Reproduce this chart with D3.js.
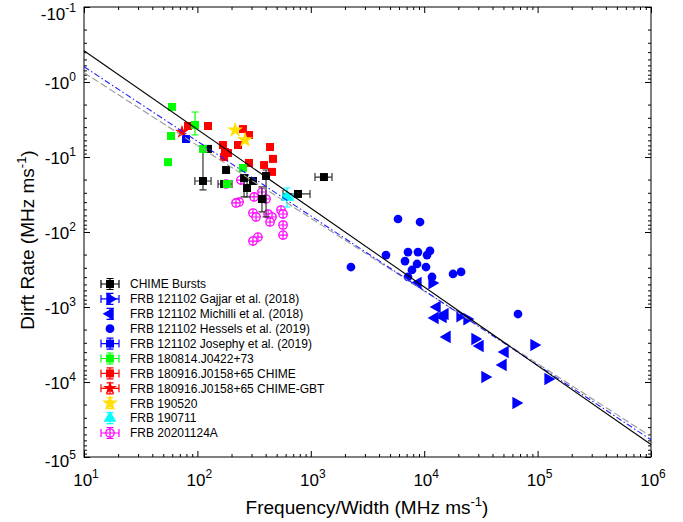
<!DOCTYPE html>
<html>
<head>
<meta charset="utf-8">
<title>Drift rate vs frequency/width</title>
<script src="https://d3js.org/d3.v7.min.js"></script>
<style>
  body { margin: 0; background: #fff; }
  svg text { font-family: "Liberation Sans", Arial, Helvetica, sans-serif; fill: #000; }
</style>
</head>
<body>
<svg id="chart" width="683" height="522"></svg>
<script>
// points: [frequency/width, |drift rate|, xlo, xhi, ylo, yhi]  (drift rates are negative)
var chime = [[112,20.9,95,132,8.1,27.5],[124,7.8],[179,14.9],[172,22.9,152,202],[258,19.1,null,null,18.5,34],
             [274,25.9,null,null,20.3,34],[309,20.9],[403,17.9,null,null,14.9,63],[371,36.3,null,null,25,54],
             [771,31.1,569,984],[1306,18.5,1089,1538]];
var gajjar = [[11720,479],[20700,1320],[23840,1450],[28050,2670],[92900,3210],[34360,8580],[123600,9120],[64570,19050]];
var michilli = [[8810,479],[12970,1000],[15250,1240],[14650,1360],[12450,1400],[15890,2510],[31050,3310],[51600,3980],[49550,5930]];
var hessels = [[5875,67.1],[9190,73.6],[4603,203],[2259,293],[7195,185],[8810,185],[11240,179],[10590,203],[6770,244],
               [8650,267],[10370,293],[7800,321],[7195,398],[11720,398],[17960,363],[21130,341],[67150,1240]];
var josephy = [[79.3,5.75]];
var frb180814 = [[59.7,2.15],[58.5,5.25],[55.1,11.7],[95.3,3.74,null,null,2.51,5.09],[112,7.8],[252,14.0],[182,22.9]];
var frb180916 = [[82.6,3.86],[124,3.86],[252,4.24],[285,5.09],[228,6.92],[168,6.92],[175,8.58],[186,8.85],[172,10],
                 [437,7.36],[464,10.6],[285,12.0],[387,12.8],[455,15.8]];
var frb180916gbt = [[73.1,4.64]];
var frb190520 = [[215,4.37],[263,5.93]];
var frb190711 = [[617,34.1,569,697,25.9,46.4]];
var frb20201124 = [[242,20.3],[179,22.9],[371,29.3],[316,34.1],[403,36.3],[233,39.8],[219,41.0],[309,55.8],[329,63.1],
                   [420,57.5],[455,63.1],[546,50.9],[569,57.5],[437,73.6],[569,80.7],[569,110],[342,117],[309,132]];

// power-law fits |rate| = a * x^b
var fitSolid = [0.0341, 1.05];
var fitDashDot = [0.0632, 0.995];
var fitDashed = [0.0805, 0.97];

var xTicks = [1e1, 1e2, 1e3, 1e4, 1e5, 1e6];
var yTicks = [1e-1, 1e0, 1e1, 1e2, 1e3, 1e4, 1e5];

var svg = d3.select("#chart");
var L = 84, R = 651, T = 7, B = 457;
var x = d3.scaleLog().domain([10, 1e6]).range([L, R]);
var y = d3.scaleLog().domain([0.1, 1e5]).range([T, B]);

function minors(dom) {
  var out = [];
  for (var k = Math.round(Math.log10(dom[0])); k < Math.round(Math.log10(dom[1])); k++)
    for (var m = 2; m <= 9; m++) out.push(m * Math.pow(10, k));
  return out;
}

// ticks on all four sides, pointing inward
function tickAxis(axis, vals, size, tr) {
  var g = svg.append("g").attr("transform", tr)
    .call(axis.tickValues(vals).tickSize(-size).tickSizeOuter(0).tickFormat(""));
  g.select(".domain").remove();
  g.selectAll(".tick line").attr("stroke", "#000").attr("stroke-width", 1);
}
tickAxis(d3.axisBottom(x), xTicks, 6, "translate(0," + B + ")");
tickAxis(d3.axisBottom(x), minors(x.domain()), 3, "translate(0," + B + ")");
tickAxis(d3.axisTop(x), xTicks, 6, "translate(0," + T + ")");
tickAxis(d3.axisTop(x), minors(x.domain()), 3, "translate(0," + T + ")");
tickAxis(d3.axisLeft(y), yTicks, 6, "translate(" + L + ",0)");
tickAxis(d3.axisLeft(y), minors(y.domain()), 3, "translate(" + L + ",0)");
tickAxis(d3.axisRight(y), yTicks, 6, "translate(" + R + ",0)");
tickAxis(d3.axisRight(y), minors(y.domain()), 3, "translate(" + R + ",0)");

svg.append("rect").attr("x", L).attr("y", T).attr("width", R - L).attr("height", B - T)
  .attr("fill", "none").attr("stroke", "#000").attr("stroke-width", 1);

// tick labels
xTicks.forEach(function (v) {
  var t = svg.append("text").attr("x", x(v) + 2).attr("y", 486)
    .attr("text-anchor", "middle").style("font-size", "17px");
  t.append("tspan").text("10");
  t.append("tspan").attr("dy", -8).style("font-size", "12px").text(Math.round(Math.log10(v)));
});
yTicks.forEach(function (v, i) {
  // end labels are nudged inside the figure
  var off = i === 0 ? 13 : (i === yTicks.length - 1 ? 10 : 7);
  var t = svg.append("text").attr("x", 76).attr("y", y(v) + off)
    .attr("text-anchor", "end").style("font-size", "17px");
  t.append("tspan").text("-10");
  t.append("tspan").attr("dy", -8).style("font-size", "12px").text(Math.round(Math.log10(v)));
});

// axis titles
var xt = svg.append("text").attr("x", 367).attr("y", 514).attr("text-anchor", "middle").style("font-size", "19px");
xt.append("tspan").text("Frequency/Width (MHz ms");
xt.append("tspan").attr("dy", -8).style("font-size", "13px").text("-1");
xt.append("tspan").attr("dy", 8).text(")");
var yt = svg.append("text").attr("transform", "translate(34,240) rotate(-90)").attr("text-anchor", "middle").style("font-size", "19px");
yt.append("tspan").text("Dirft Rate (MHz ms");
yt.append("tspan").attr("dy", -8).style("font-size", "13px").text("-1");
yt.append("tspan").attr("dy", 8).text(")");

var plot = svg.append("g");

// marker drawing
function marker(g, kind, color, px, py) {
  if (kind === "ocross") {
    g.append("circle").attr("cx", px).attr("cy", py).attr("r", 4.2)
      .attr("fill", "#fff").attr("stroke", color).attr("stroke-width", 1.3);
    g.append("path").attr("d", "M" + (px - 4.2) + "," + py + "H" + (px + 4.2) + "M" + px + "," + (py - 4.2) + "V" + (py + 4.2))
      .attr("stroke", color).attr("stroke-width", 1.2);
    return;
  }
  var sym, size = 64, rot = 0;
  if (kind === "square") sym = d3.symbolSquare;
  if (kind === "circle") { sym = d3.symbolCircle; size = 60; }
  if (kind === "right") { sym = d3.symbolTriangle; size = 70; rot = 90; }
  if (kind === "left") { sym = d3.symbolTriangle; size = 70; rot = -90; }
  if (kind === "up") { sym = d3.symbolTriangle; size = 70; }
  if (kind === "star") { sym = d3.symbolStar; size = 80; }
  if (kind === "gbt") { sym = d3.symbolStar; size = 60; }
  g.append("path").attr("d", d3.symbol(sym, size)())
    .attr("transform", "translate(" + px + "," + py + ") rotate(" + rot + ")")
    .attr("fill", color);
}

function errbars(g, color, x0, x1, yy, y0, y1, xx) {
  if (x0 != null) {
    g.append("path").attr("d", "M" + x0 + "," + yy + "H" + x1 + "M" + x0 + "," + (yy - 4) + "V" + (yy + 4) + "M" + x1 + "," + (yy - 4) + "V" + (yy + 4))
      .attr("stroke", color).attr("stroke-width", 1.2).attr("fill", "none");
  }
  if (y0 != null) {
    g.append("path").attr("d", "M" + xx + "," + y0 + "V" + y1 + "M" + (xx - 3.5) + "," + y0 + "H" + (xx + 3.5) + "M" + (xx - 3.5) + "," + y1 + "H" + (xx + 3.5))
      .attr("stroke", color).attr("stroke-width", 1.2).attr("fill", "none");
  }
}

function drawSeries(data, kind, color, errColor) {
  var g = plot.append("g");
  data.forEach(function (d) {
    var px = x(d[0]), py = y(d[1]);
    errbars(g, errColor || color,
      d[2] != null ? x(d[2]) : null, d[3] != null ? x(d[3]) : null, py,
      d[4] != null ? y(d[4]) : null, d[5] != null ? y(d[5]) : null, px);
  });
  data.forEach(function (d) { marker(g, kind, color, x(d[0]), y(d[1])); });
}

var blue = "#0000ff", green = "#00ff00", red = "#ff0000", yellow = "#ffe000", cyan = "#00ffff", magenta = "#ff00ff";

drawSeries(hessels, "circle", blue);
drawSeries(gajjar, "right", blue);
drawSeries(michilli, "left", blue);
drawSeries(frb180916, "square", red);
drawSeries(frb180916gbt, "gbt", red);
drawSeries(frb190520, "star", yellow);
drawSeries(josephy, "square", blue);
drawSeries(frb20201124, "ocross", magenta);
drawSeries(chime, "square", "#000", "#333");
drawSeries(frb180814, "square", green);
drawSeries(frb190711, "up", cyan);

// fit lines
function fitLine(p, color, dash) {
  var xs = [10, 1e6];
  plot.append("path")
    .attr("d", d3.line().x(function (v) { return x(v); }).y(function (v) { return y(p[0] * Math.pow(v, p[1])); })(xs))
    .attr("fill", "none").attr("stroke", color).attr("stroke-width", 1.1)
    .attr("stroke-dasharray", dash);
}
fitLine(fitDashed, "#999", "7,3");
fitLine(fitDashDot, "#2020ff", "6,2.5,1.5,2.5");
fitLine(fitSolid, "#000", null);

// legend
var legendItems = [
  ["CHIME Bursts", "square", "#000", true, true],
  ["FRB 121102 Gajjar et al. (2018)", "right", blue, true, true],
  ["FRB 121102 Michilli et al. (2018)", "left", blue, false, true],
  ["FRB 121102 Hessels et al. (2019)", "circle", blue, false, false],
  ["FRB 121102 Josephy et al. (2019)", "square", blue, true, true],
  ["FRB 180814.J0422+73", "square", green, true, true],
  ["FRB 180916.J0158+65 CHIME", "square", red, true, true],
  ["FRB 180916.J0158+65 CHIME-GBT", "gbt", red, true, true],
  ["FRB 190520", "star", yellow, false, true],
  ["FRB 190711", "up", cyan, false, true],
  ["FRB 20201124A", "ocross", magenta, true, true]
];
var lg = svg.append("g");
legendItems.forEach(function (it, i) {
  var cy = 284 + i * 14.9, cx = 110;
  errbars(lg, it[2], it[3] ? cx - 9 : null, cx + 9, cy, it[4] ? cy - 5.5 : null, cy + 5.5, cx);
  marker(lg, it[1], it[2], cx, cy);
  lg.append("text").attr("x", 130).attr("y", cy + 4.3).style("font-size", "12px").text(it[0]);
});
</script>
</body>
</html>
